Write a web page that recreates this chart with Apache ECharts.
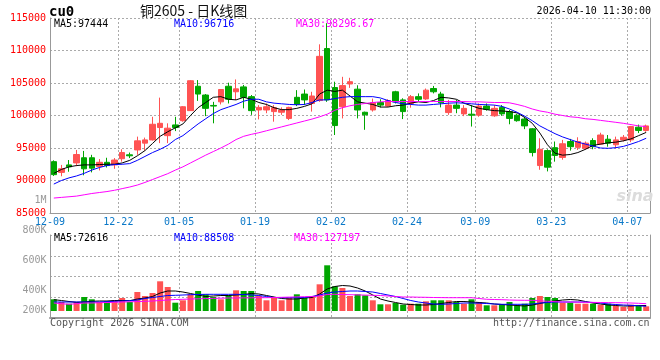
<!DOCTYPE html>
<html><head><meta charset="utf-8">
<script src="https://cdn.jsdelivr.net/npm/echarts@6/dist/echarts.min.js"></script>
<style>html,body{margin:0;padding:0;background:#fff}#c{width:660px;height:360px}</style>
</head><body><div id="c"></div>
<script>
// ---------- data ----------
const dates = ['12-09','12-10','12-11','12-12','12-15','12-16','12-17','12-18','12-19','12-22','12-23','12-24','12-25','12-26','12-29','12-30','12-31',
'01-05','01-06','01-07','01-08','01-09','01-12','01-13','01-14','01-15','01-16','01-19','01-20','01-21','01-22','01-23','01-26','01-27','01-28','01-29','01-30',
'02-02','02-03','02-04','02-05','02-06','02-09','02-10','02-11','02-12','02-13','02-24','02-25','02-26','02-27',
'03-02','03-03','03-04','03-05','03-06','03-09','03-10','03-11','03-12','03-13','03-16','03-17','03-18','03-19','03-20','03-23','03-24','03-25','03-26','03-27','03-30','03-31',
'04-01','04-02','04-03','04-07','04-08','04-09'];
const tickDates = ['12-09','12-22','01-05','01-19','02-02','02-24','03-09','03-23','04-07'];

const opens = [92900,91250,92400,92700,93500,93500,92150,92800,92400,93350,93950,94700,95750,96250,98150,96900,98550,99200,100750,104500,103150,101550,102100,104500,103650,104400,102900,100850,100850,100600,100500,99550,102800,103300,101850,102300,110300,
104300,101350,104850,104050,100500,100850,102000,101450,103650,102400,101850,102900,102550,104150,103300,100450,101600,100250,100200,100050,101450,99950,101250,100600,100050,99450,97950,92300,94600,95050,93550,96000,95100,94950,96150,95600,96350,95500,96250,96250,98200,97700];
const closes = [90900,91800,92100,94000,91800,91900,92800,92300,93150,94300,93800,96100,96250,98650,98800,98050,98150,101350,105350,103300,101100,101450,104000,102500,104100,102800,100750,101250,101350,101200,100850,101250,101750,102400,103000,109100,102400,
98450,104600,105200,100850,100100,102000,101600,102300,102100,100600,102900,102500,103900,103650,101950,101600,101100,101100,100050,101450,100950,101100,100250,99550,99200,98400,94300,94800,92050,93850,95650,95200,96000,95750,95200,97000,95750,96250,96650,98300,97700,98400];
const lows = [90700,90650,91350,92200,90800,91250,91550,92000,91800,92900,93450,93950,94600,96150,95750,95750,97600,99050,100750,102250,99900,98800,101700,101850,102400,101100,100100,99400,100350,99050,100100,99300,101450,101600,100600,102100,102100,
97000,99550,104250,99550,97800,100600,101250,101350,101850,99450,101200,102100,102400,103400,101250,100100,100350,99900,98300,99800,100750,99800,99950,98650,99050,97900,93700,91650,91400,92900,93200,94600,94700,94700,94800,95500,95200,94950,96000,95900,97300,97500];
const highs = [93100,92400,93150,94700,94550,93950,93300,93500,93450,94800,94300,96750,96600,99800,102750,98800,99800,101450,105450,105450,103300,102100,104000,105050,105550,104700,103150,101600,101850,101600,101250,101350,103900,104000,103650,110950,114200,
105200,105950,105800,104650,100600,102600,102500,102500,103800,102650,103150,103400,104150,104550,103650,102400,102400,101600,101600,101850,101850,101600,101600,100850,100250,99800,98050,96500,94800,96000,96250,96400,96650,96000,96500,97350,97000,96750,97000,98400,98600,98600];

const ma5 = [91100,91700,92100,92300,92400,92400,92450,92500,92500,92700,93100,93800,94600,95700,96800,97500,98100,98700,100000,101200,102000,102800,102900,102500,102400,102800,102500,102000,101700,101200,100900,100900,101100,101400,101800,103300,103900,
103700,103900,103000,102100,101900,101700,101300,101300,101500,101600,101900,102100,102000,102300,102800,102700,102500,101900,101500,101100,100900,100750,100700,100600,100400,99700,98800,97300,95500,94200,93900,94000,94300,94800,95400,95600,95800,95900,96100,96400,96900,97400];
const ma10 = [89450,90000,90400,90700,91100,91600,92000,92300,92450,92500,92600,93100,93700,94300,94800,95400,96300,96900,97800,98700,99500,100300,100900,101300,101700,102200,102500,102500,102100,101900,101800,101700,101650,101700,102000,102400,102400,
102600,102800,102900,102900,102900,102900,102700,102300,102000,101800,101700,101600,101600,101700,101800,101900,101950,101900,101800,101700,101650,101600,101400,101000,100500,99900,99200,98400,97800,97200,96700,96300,95900,95600,95300,95000,94950,95050,95250,95600,96000,96500];
const ma30 = [87300,87400,87500,87600,87800,88000,88150,88300,88500,88750,89000,89300,89700,90150,90600,91050,91600,92100,92700,93300,93900,94450,95000,95600,96300,96800,97100,97350,97650,97950,98250,98550,98850,99150,99450,99800,100200,
100800,101200,101500,101700,101850,102000,102100,102150,102150,102150,102150,102150,102150,102150,102150,102150,102150,102150,102100,102100,102050,102000,102000,101950,101700,101400,101000,100700,100500,100200,100000,99800,99700,99500,99400,99250,99100,98950,98800,98600,98400,98300];

const volumes = [117,90,73,90,140,117,90,97,107,130,90,190,150,180,297,240,83,107,167,200,167,140,117,157,207,200,200,150,107,140,107,130,167,130,140,267,457,
247,230,150,167,157,107,67,67,80,63,73,73,97,107,107,107,90,73,117,90,57,57,63,90,57,73,130,150,140,130,83,83,73,73,73,63,73,50,40,63,57,47];
const volMa5 = [113,105,95,87,90,97,100,100,105,105,103,120,130,145,180,200,200,190,175,160,145,150,155,155,160,165,175,170,155,140,125,120,120,130,135,170,220,
245,255,250,230,200,160,120,100,85,70,65,60,60,65,75,85,95,95,90,85,80,70,65,60,55,50,60,75,90,100,110,115,110,95,80,70,60,55,50,50,55,55];
const volMa10 = [90,90,90,90,90,90,90,93,97,100,103,110,125,135,145,155,157,160,163,165,167,167,167,167,167,165,160,155,145,135,133,133,133,135,145,160,180,
190,195,200,200,195,190,175,160,145,125,105,90,80,70,67,70,75,80,80,78,75,70,67,67,67,67,70,80,85,90,90,90,90,90,85,80,70,65,60,57,52,47];
const volMa30 = [80,73,67,73,80,80,83,85,87,90,92,94,97,100,105,110,115,117,120,122,124,126,128,130,130,131,132,133,133,135,137,139,141,143,145,150,165,
167,165,163,161,159,157,155,150,145,140,140,138,137,135,134,133,133,133,133,125,117,115,113,110,108,107,107,102,97,93,90,90,88,87,86,85,84,83,82,80,77,73];

const priceMin = 85000, priceMax = 115000, priceStep = 5000;
const volTickLabels = ['800K','600K','400K','200K'];
const priceLegend = ['MA5:97444','MA10:96716','MA30:98296.67'];
const volLegend = ['MA5:72616','MA10:88508','MA30:127197'];

// ---------- chart ----------
const RED = '#ff5353', GREEN = '#00a600', GRID = '#aaaaaa', AX = '#999999';
const mono = 'DejaVu Sans Mono';
const labelIdx = tickDates.map(d => dates.indexOf(d));
const bounds = dates.concat(['']);
const isUp = opens.map((o, i) => closes[i] >= o);
const chart = echarts.init(document.getElementById('c'), null, {renderer: 'canvas'});

function txt(text, x, y, color, opts) {
  opts = opts || {};
  return {type: 'text', x: x, y: y, z: 100,
    style: {text: text, fill: color, font: opts.font || ('10px "' + mono + '"'),
      textAlign: opts.align || 'left', textVerticalAlign: 'middle', align: opts.align || 'left', verticalAlign: 'middle'}};
}
const legendColors = ['#000000', '#0000ff', '#ff00ff'];
const legendX = [54, 174, 296];
const volLabelY = [230.3, 260.7, 290.7, 310.7];

const graphic = [
  txt('cu0', 49, 12, '#000', {font: 'bold 14px "' + mono + '"'}),
  txt('铜2605 - 日K线图', 140, 10.5, '#111', {font: '14px "Noto Sans CJK SC"'}),
  txt('2026-04-10 11:30:00', 651, 11.5, '#000', {align: 'right'}),
  txt('1M', 46.5, 200.3, '#999', {align: 'right'}),
  txt('Copyright 2026 SINA.COM', 50, 323.5, '#555'),
  txt('http://finance.sina.com.cn', 649.5, 323.5, '#555', {align: 'right'}),
  txt('sina', 635, 197, '#dcdcdc', {align: 'center', font: 'italic bold 16px "DejaVu Sans"'})
];
priceLegend.forEach((t, i) => graphic.push(txt(t, legendX[i], 24, legendColors[i])));
volLegend.forEach((t, i) => graphic.push(txt(t, legendX[i] - (i === 2 ? 2 : 0), 238.5, legendColors[i])));
volTickLabels.forEach((t, i) => graphic.push(txt(t, 46.5, volLabelY[i], '#999', {align: 'right'})));

const dotted = {color: GRID, type: [2, 2], width: 1};
const splitFn = (i) => labelIdx.indexOf(i) > 0;

const option = {
  animation: false,
  backgroundColor: '#fff',
  grid: [
    {left: 50, top: 18, width: 600, height: 195},
    {left: 50, top: 235, width: 600, height: 83},
    {left: 50, top: 235, width: 600, height: 76}
  ],
  xAxis: [
    {gridIndex: 0, type: 'category', data: dates, boundaryGap: true,
     axisLine: {lineStyle: {color: AX}}, axisTick: {show: false}, axisLabel: {show: false}, splitLine: {show: false}},
    {gridIndex: 0, type: 'category', data: bounds, boundaryGap: false, position: 'bottom',
     axisLine: {show: false}, axisTick: {show: false},
     axisLabel: {interval: (i) => labelIdx.indexOf(i) >= 0, color: '#0a78c8', fontFamily: mono, fontSize: 10, margin: 4},
     splitLine: {show: true, interval: splitFn, lineStyle: dotted}},
    {gridIndex: 1, type: 'category', data: bounds, boundaryGap: false,
     axisLine: {lineStyle: {color: AX, width: 2}}, axisTick: {show: false}, axisLabel: {show: false},
     splitLine: {show: true, interval: splitFn, lineStyle: dotted}},
    {gridIndex: 2, type: 'category', data: dates, boundaryGap: true, show: false}
  ],
  yAxis: [
    {gridIndex: 0, type: 'value', min: priceMin, max: priceMax, interval: priceStep,
     axisLine: {show: true, lineStyle: {color: AX}}, axisTick: {show: false},
     axisLabel: {color: '#ff0000', fontFamily: mono, fontSize: 10, margin: 4, formatter: (v) => String(v)},
     splitLine: {show: true, lineStyle: dotted}},
    {gridIndex: 0, type: 'value', position: 'right', min: priceMin, max: priceMax,
     axisLine: {show: true, lineStyle: {color: AX}}, axisTick: {show: false}, axisLabel: {show: false}, splitLine: {show: false}},
    {gridIndex: 1, type: 'value', min: 0, max: 4, interval: 1,
     axisLine: {show: true, lineStyle: {color: AX}}, axisTick: {show: false}, axisLabel: {show: false},
     splitLine: {show: true, lineStyle: dotted}},
    {gridIndex: 1, type: 'value', position: 'right', min: 0, max: 4,
     axisLine: {show: true, lineStyle: {color: AX}}, axisTick: {show: false}, axisLabel: {show: false}, splitLine: {show: false}},
    {gridIndex: 2, type: 'value', min: 0, max: 760, show: false}
  ],
  series: [
    {type: 'candlestick', xAxisIndex: 0, yAxisIndex: 0, barWidth: 6,
     data: dates.map((d, i) => [opens[i], closes[i], lows[i], highs[i]]),
     itemStyle: {color: RED, color0: GREEN, borderColor: RED, borderColor0: GREEN, borderWidth: 1}},
    {type: 'line', xAxisIndex: 0, yAxisIndex: 0, data: ma5, showSymbol: false, symbol: 'none', lineStyle: {color: '#000', width: 1}},
    {type: 'line', xAxisIndex: 0, yAxisIndex: 0, data: ma10, showSymbol: false, symbol: 'none', lineStyle: {color: '#0000ff', width: 1}},
    {type: 'line', xAxisIndex: 0, yAxisIndex: 0, data: ma30, showSymbol: false, symbol: 'none', lineStyle: {color: '#ff00ff', width: 1}},
    {type: 'bar', xAxisIndex: 3, yAxisIndex: 4, barWidth: 6,
     data: volumes.map((v, i) => ({value: v, itemStyle: {color: isUp[i] ? RED : GREEN}}))},
    {type: 'line', xAxisIndex: 3, yAxisIndex: 4, data: volMa5, showSymbol: false, symbol: 'none', lineStyle: {color: '#000', width: 1}},
    {type: 'line', xAxisIndex: 3, yAxisIndex: 4, data: volMa10, showSymbol: false, symbol: 'none', lineStyle: {color: '#0000ff', width: 1}},
    {type: 'line', xAxisIndex: 3, yAxisIndex: 4, data: volMa30, showSymbol: false, symbol: 'none', lineStyle: {color: '#ff00ff', width: 1}}
  ],
  graphic: graphic
};
chart.setOption(option);
</script>
</body></html>
